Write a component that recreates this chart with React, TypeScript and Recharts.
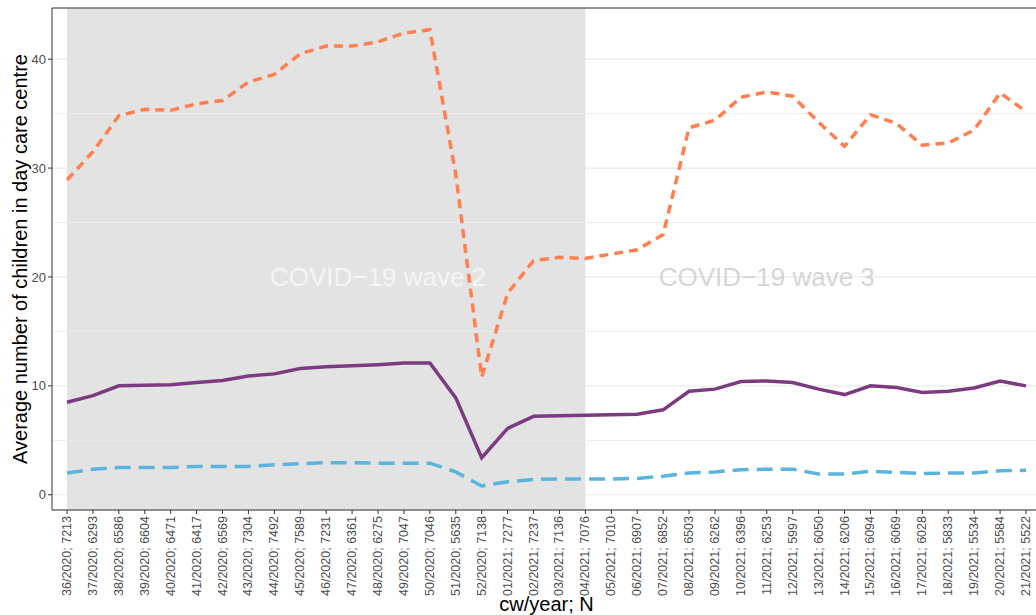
import { LineChart, Line, XAxis, YAxis, CartesianGrid, ReferenceArea, ReferenceLine, ReferenceDot, Label } from 'recharts'

const weeks = [
  '36/2020', '37/2020', '38/2020', '39/2020', '40/2020', '41/2020', '42/2020', '43/2020', '44/2020', '45/2020',
  '46/2020', '47/2020', '48/2020', '49/2020', '50/2020', '51/2020', '52/2020', '01/2021', '02/2021', '03/2021',
  '04/2021', '05/2021', '06/2021', '07/2021', '08/2021', '09/2021', '10/2021', '11/2021', '12/2021', '13/2021',
  '14/2021', '15/2021', '16/2021', '17/2021', '18/2021', '19/2021', '20/2021', '21/2021',
]
const sampleSizes = [
  7213, 6293, 6586, 6604, 6471, 6417, 6569, 7304, 7492, 7589,
  7231, 6361, 6275, 7047, 7046, 5635, 7138, 7277, 7237, 7136,
  7076, 7010, 6907, 6852, 6503, 6262, 6396, 6253, 5997, 6050,
  6206, 6094, 6069, 6028, 5833, 5534, 5584, 5522,
]
const upperValues = [
  28.9, 31.5, 34.8, 35.4, 35.3, 35.9, 36.2, 37.9, 38.6, 40.5,
  41.2, 41.2, 41.6, 42.4, 42.7, 29.4, 10.8, 18.5, 21.5, 21.8,
  21.7, 22.1, 22.5, 23.9, 33.7, 34.4, 36.5, 37.0, 36.6, 34.2,
  32.0, 34.9, 34.1, 32.1, 32.3, 33.5, 36.9, 35.2,
]
const meanValues = [
  8.5, 9.1, 10.0, 10.05, 10.1, 10.3, 10.5, 10.9, 11.1, 11.6,
  11.75, 11.85, 11.95, 12.1, 12.1, 8.9, 3.4, 6.1, 7.2, 7.25,
  7.3, 7.35, 7.4, 7.8, 9.5, 9.7, 10.4, 10.45, 10.3, 9.7,
  9.2, 10.0, 9.85, 9.4, 9.5, 9.8, 10.45, 10.0,
]
const lowerValues = [
  2.0, 2.35, 2.5, 2.5, 2.5, 2.6, 2.6, 2.6, 2.75, 2.85,
  2.95, 2.95, 2.9, 2.9, 2.9, 2.1, 0.8, 1.2, 1.4, 1.45,
  1.45, 1.45, 1.5, 1.7, 2.0, 2.1, 2.3, 2.35, 2.35, 1.9,
  1.9, 2.15, 2.05, 1.95, 2.0, 2.0, 2.2, 2.25,
]
const yTicks = [0, 10, 20, 30, 40]
const minorTicks = [5, 15, 25, 35]
const yDomain: [number, number] = [-1.4, 44.7]

const categories = weeks.map((w, i) => `${w}; ${sampleSizes[i]}`)
const data = categories.map((cat, i) => ({
  cat,
  upper: upperValues[i],
  mean: meanValues[i],
  lower: lowerValues[i],
}))

// wave 2 shading runs from the first week to 04/2021
const wave2Start = categories[0]
const wave2End = categories[20]
const wave2LabelAt = categories[12]
const wave3LabelAt = categories[27]

const WeekTick = ({ x, y, payload }: any) => (
  <text
    x={x}
    y={y}
    transform={`rotate(-90 ${x} ${y})`}
    textAnchor="end"
    dominantBaseline="central"
    fontSize={12.5}
    fill="#4d4d4d"
  >
    {payload.value}
  </text>
)

export default function App() {
  return (
    <div
      style={{
        position: 'absolute',
        left: 0,
        top: 0,
        width: 1036,
        height: 615,
        overflow: 'hidden',
        background: '#fff',
        fontFamily: '"Liberation Sans", Arial, sans-serif',
      }}
    >
      <LineChart width={1050} height={615} data={data} margin={{ top: 8, right: 9, bottom: 0, left: 0 }}>
        <ReferenceArea x1={wave2Start} x2={wave2End} fill="#e3e3e3" fillOpacity={1} stroke="none" />
        <CartesianGrid vertical={false} stroke="#ebebeb" strokeWidth={1.2} />
        {minorTicks.map((v) => (
          <ReferenceLine key={v} y={v} stroke="#ededed" strokeWidth={1} />
        ))}
        <ReferenceLine y={yDomain[1]} stroke="#333" strokeWidth={1} />
        <ReferenceDot
          x={wave2LabelAt}
          y={20}
          r={1}
          fillOpacity={0}
          stroke="none"
          label={{ value: 'COVID−19 wave 2', position: 'center', fill: '#f5f5f5', fontSize: 26 }}
        />
        <ReferenceDot
          x={wave3LabelAt}
          y={20}
          r={1}
          fillOpacity={0}
          stroke="none"
          label={{ value: 'COVID−19 wave 3', position: 'center', fill: '#d6d6d6', fontSize: 26 }}
        />
        <XAxis
          dataKey="cat"
          scale="point"
          padding={{ left: 15, right: 15 }}
          interval={0}
          height={105}
          tick={<WeekTick />}
          tickSize={4}
          tickMargin={2}
          axisLine={{ stroke: '#333' }}
          tickLine={{ stroke: '#333' }}
        >
          <Label
            content={({ viewBox }: any) => (
              <text
                x={viewBox.x + viewBox.width / 2}
                y={viewBox.y + 94}
                textAnchor="middle"
                dominantBaseline="central"
                fontSize={20}
                fill="#000"
              >
                cw/year; N
              </text>
            )}
          />
        </XAxis>
        <YAxis
          width={52}
          domain={yDomain}
          ticks={yTicks}
          allowDataOverflow
          tick={{ fontSize: 13, fill: '#4d4d4d' }}
          tickSize={4}
          tickMargin={2}
          axisLine={{ stroke: '#333' }}
          tickLine={{ stroke: '#333' }}
        >
          <Label
            content={({ viewBox }: any) => (
              <text
                x={viewBox.x + 20}
                y={viewBox.y + viewBox.height / 2}
                transform={`rotate(-90 ${viewBox.x + 20} ${viewBox.y + viewBox.height / 2})`}
                textAnchor="middle"
                dominantBaseline="central"
                fontSize={20}
                fill="#000"
              >
                Average number of children in day care centre
              </text>
            )}
          />
        </YAxis>
        <Line
          type="linear"
          dataKey="upper"
          stroke="#ff7f4f"
          strokeWidth={3.5}
          strokeDasharray="9 6"
          dot={false}
          isAnimationActive={false}
        />
        <Line
          type="linear"
          dataKey="mean"
          stroke="#7b3b80"
          strokeWidth={3.5}
          dot={false}
          isAnimationActive={false}
        />
        <Line
          type="linear"
          dataKey="lower"
          stroke="#5ab4dd"
          strokeWidth={3.5}
          strokeDasharray="16 8"
          dot={false}
          isAnimationActive={false}
        />
      </LineChart>
    </div>
  )
}
